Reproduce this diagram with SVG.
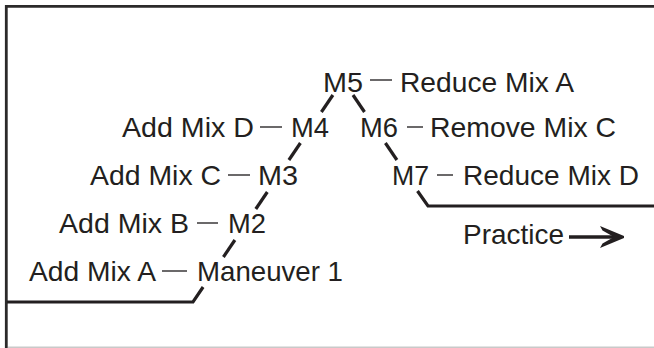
<svg xmlns="http://www.w3.org/2000/svg" width="654" height="348" viewBox="0 0 654 348">
  <style>
    text { font-family: "Liberation Sans", Arial, Helvetica, sans-serif; font-size: 28px; fill: #231f20; }
    .tick { stroke: #3a3738; stroke-width: 1.5; fill: none; }
    .path { stroke: #231f20; stroke-width: 3.2; fill: none; stroke-linecap: butt; stroke-linejoin: miter; }
  </style>

  <!-- frame -->
  <g id="frame">
    <rect x="0" y="0" width="654" height="348" fill="#ffffff"/>
    <line x1="6.3" y1="6.3" x2="654" y2="6.3" stroke="#2b2a2a" stroke-width="2.8"/>
    <line x1="6.3" y1="5" x2="6.3" y2="348" stroke="#2b2a2a" stroke-width="2.8"/>
    <line x1="8" y1="347.3" x2="654" y2="347.3" stroke="#c9c9c9" stroke-width="1.6"/>
  </g>

  <!-- training curve: level stages joined by rising and falling runs -->
  <g id="connectors" class="path">
    <polyline points="7,302 193,302 203.1,287"/>
    <line x1="223.4" y1="257" x2="234.9" y2="240"/>
    <line x1="255.8" y1="209" x2="267.3" y2="192"/>
    <line x1="288.9" y1="160" x2="300.4" y2="143"/>
    <line x1="321.4" y1="112" x2="332.9" y2="95"/>
    <line x1="353" y1="95" x2="364.5" y2="112"/>
    <line x1="385.4" y1="143" x2="396.9" y2="160"/>
    <polyline points="417.5,191 428,206 654,206"/>
  </g>

  <g id="m1">
    <text x="29" y="281" textLength="127" lengthAdjust="spacingAndGlyphs">Add Mix A</text>
    <line class="tick" x1="162" y1="271" x2="187" y2="271"/>
    <text x="197" y="281" textLength="146" lengthAdjust="spacingAndGlyphs">Maneuver 1</text>
  </g>

  <g id="m2">
    <text x="59" y="233" textLength="130" lengthAdjust="spacingAndGlyphs">Add Mix B</text>
    <line class="tick" x1="197" y1="223" x2="218" y2="223"/>
    <text x="228" y="233" textLength="38" lengthAdjust="spacingAndGlyphs">M2</text>
  </g>

  <g id="m3">
    <text x="90" y="185" textLength="131" lengthAdjust="spacingAndGlyphs">Add Mix C</text>
    <line class="tick" x1="228" y1="175" x2="250" y2="175"/>
    <text x="258" y="185" textLength="40" lengthAdjust="spacingAndGlyphs">M3</text>
  </g>

  <g id="m4">
    <text x="122" y="137" textLength="132" lengthAdjust="spacingAndGlyphs">Add Mix D</text>
    <line class="tick" x1="260" y1="127" x2="282" y2="127"/>
    <text x="291" y="137" textLength="38" lengthAdjust="spacingAndGlyphs">M4</text>
  </g>

  <g id="m5">
    <text x="323" y="92" textLength="40" lengthAdjust="spacingAndGlyphs">M5</text>
    <line class="tick" x1="370" y1="80" x2="392" y2="80"/>
    <text x="400" y="92" textLength="174" lengthAdjust="spacingAndGlyphs">Reduce Mix A</text>
  </g>

  <g id="m6">
    <text x="360" y="137" textLength="38" lengthAdjust="spacingAndGlyphs">M6</text>
    <line class="tick" x1="407" y1="127" x2="423" y2="127"/>
    <text x="430" y="137" textLength="186" lengthAdjust="spacingAndGlyphs">Remove Mix C</text>
  </g>

  <g id="m7">
    <text x="392" y="185" textLength="37" lengthAdjust="spacingAndGlyphs">M7</text>
    <line class="tick" x1="437" y1="175" x2="453" y2="175"/>
    <text x="463" y="185" textLength="176" lengthAdjust="spacingAndGlyphs">Reduce Mix D</text>
  </g>

  <g id="practice">
    <text x="463" y="244" textLength="101" lengthAdjust="spacingAndGlyphs">Practice</text>
    <line x1="569" y1="237" x2="614" y2="237" stroke="#231f20" stroke-width="3.6"/>
    <!-- bold chevron head -->
    <path d="M600,226 L624,236 L624,238 L600,248 L602.5,243.5 L614,237 L602.5,230.5 Z" fill="#231f20"/>
  </g>
</svg>
